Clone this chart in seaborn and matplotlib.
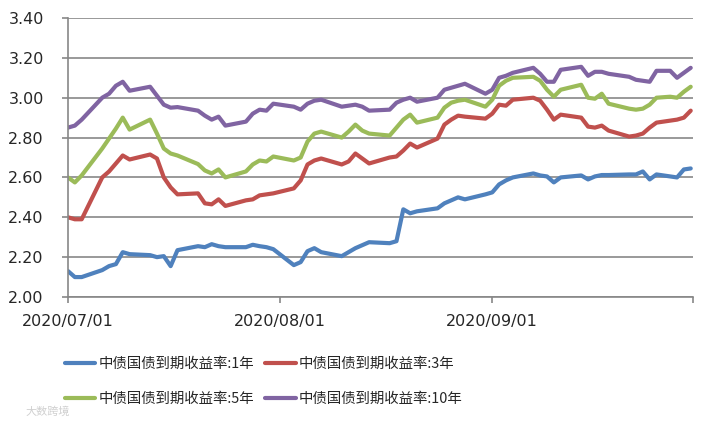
import pandas as pd
import seaborn as sns
import matplotlib.pyplot as plt
import matplotlib.dates as mdates

# trading days (Sep 27 was a working Sunday in China)
days_jul = ["07-01", "07-02", "07-03", "07-06", "07-07", "07-08", "07-09", "07-10",
            "07-13", "07-14", "07-15", "07-16", "07-17", "07-20", "07-21", "07-22",
            "07-23", "07-24", "07-27", "07-28", "07-29", "07-30", "07-31"]
days_aug = ["08-03", "08-04", "08-05", "08-06", "08-07", "08-10", "08-11", "08-12",
            "08-13", "08-14", "08-17", "08-18", "08-19", "08-20", "08-21", "08-24",
            "08-25", "08-26", "08-27", "08-28", "08-31"]
days_sep = ["09-01", "09-02", "09-03", "09-04", "09-07", "09-08", "09-09", "09-10",
            "09-11", "09-14", "09-15", "09-16", "09-17", "09-18", "09-21", "09-22",
            "09-23", "09-24", "09-25", "09-27", "09-28", "09-29", "09-30"]

# 1 year
y1 = [2.13, 2.10, 2.10, 2.135, 2.155, 2.165, 2.225, 2.215, 2.21, 2.20, 2.205, 2.155,
      2.235, 2.255, 2.25, 2.265, 2.255, 2.25, 2.25, 2.262, 2.255, 2.25, 2.24,
      2.16, 2.175, 2.23, 2.245, 2.225, 2.205, 2.225, 2.245, 2.26, 2.275, 2.27, 2.28,
      2.44, 2.42, 2.43, 2.445, 2.47, 2.485, 2.50, 2.49, 2.515,
      2.525, 2.565, 2.585, 2.60, 2.62, 2.61, 2.605, 2.575, 2.60, 2.61, 2.59, 2.605,
      2.612, 2.612, 2.615, 2.615, 2.63, 2.59, 2.615, 2.605, 2.60, 2.64, 2.645]
# 3 year
y3 = [2.40, 2.39, 2.39, 2.60, 2.63, 2.67, 2.71, 2.69, 2.715, 2.695, 2.60, 2.55,
      2.515, 2.52, 2.47, 2.465, 2.49, 2.457, 2.485, 2.49, 2.51, 2.515, 2.52,
      2.545, 2.585, 2.665, 2.685, 2.695, 2.665, 2.68, 2.72, 2.695, 2.67, 2.70, 2.705,
      2.735, 2.77, 2.75, 2.795, 2.865, 2.89, 2.91, 2.905, 2.895,
      2.92, 2.965, 2.96, 2.99, 3.00, 2.985, 2.94, 2.89, 2.915, 2.90, 2.855, 2.85,
      2.86, 2.835, 2.805, 2.81, 2.82, 2.85, 2.875, 2.885, 2.89, 2.90, 2.935]
# 5 year
y5 = [2.60, 2.575, 2.61, 2.745, 2.795, 2.845, 2.90, 2.84, 2.89, 2.82, 2.745, 2.72,
      2.71, 2.667, 2.635, 2.62, 2.64, 2.60, 2.63, 2.665, 2.685, 2.68, 2.705,
      2.685, 2.70, 2.78, 2.82, 2.83, 2.80, 2.83, 2.865, 2.835, 2.82, 2.81, 2.85,
      2.89, 2.915, 2.875, 2.90, 2.95, 2.975, 2.985, 2.99, 2.955,
      2.99, 3.06, 3.085, 3.10, 3.105, 3.085, 3.04, 3.005, 3.04, 3.065, 3.00, 2.995,
      3.02, 2.97, 2.945, 2.94, 2.945, 2.965, 3.00, 3.005, 3.00, 3.03, 3.055]
# 10 year
y10 = [2.85, 2.86, 2.89, 3.00, 3.02, 3.06, 3.08, 3.035, 3.055, 3.01, 2.965, 2.95,
       2.953, 2.935, 2.91, 2.89, 2.905, 2.86, 2.88, 2.92, 2.94, 2.935, 2.97,
       2.955, 2.94, 2.97, 2.985, 2.99, 2.955, 2.96, 2.965, 2.955, 2.935, 2.94, 2.975,
       2.99, 3.00, 2.98, 3.00, 3.04, 3.05, 3.06, 3.07, 3.02,
       3.04, 3.10, 3.11, 3.125, 3.15, 3.12, 3.08, 3.08, 3.14, 3.155, 3.11, 3.13,
       3.13, 3.12, 3.105, 3.09, 3.085, 3.08, 3.135, 3.135, 3.10, 3.125, 3.15]

labels = ["中债国债到期收益率:1年", "中债国债到期收益率:3年",
          "中债国债到期收益率:5年", "中债国债到期收益率:10年"]
colors = ["#4F81BD", "#C0504D", "#9BBB59", "#8064A2"]

dates = pd.to_datetime(["2020-" + d for d in days_jul + days_aug + days_sep])
df = pd.DataFrame({"date": dates, labels[0]: y1, labels[1]: y3,
                   labels[2]: y5, labels[3]: y10})
df = df.melt(id_vars="date", var_name="series", value_name="rate")

sns.set_style("white")
plt.rcParams["font.family"] = ["Noto Sans CJK SC", "DejaVu Sans"]

fig = plt.figure(figsize=(7.12, 4.26), dpi=100)
ax = fig.add_axes([68 / 712, 1 - 297 / 426, 625 / 712, 279 / 426])

sns.lineplot(data=df, x="date", y="rate", hue="series", hue_order=labels,
             palette=colors, linewidth=3, ax=ax)

grid_c = "#878787"
ax.set_ylim(2.0, 3.4)
ax.set_yticks([2.0 + 0.2 * i for i in range(8)])
ax.yaxis.set_major_formatter(plt.FormatStrFormatter("%.2f"))
ax.grid(axis="y", color=grid_c, linewidth=1.2)
ax.set_axisbelow(True)

x0 = pd.Timestamp("2020-07-01")
x1 = pd.Timestamp("2020-09-30") + pd.Timedelta(hours=8)
ax.set_xlim(x0, x1)
ax.set_xticks(pd.to_datetime(["2020-07-01", "2020-08-01", "2020-09-01"]))
ax.set_xticks([x1], minor=True)
ax.xaxis.set_major_formatter(mdates.DateFormatter("%Y/%m/%d"))

for s in ["top", "right"]:
    ax.spines[s].set_visible(False)
for s in ["left", "bottom"]:
    ax.spines[s].set_color(grid_c)
    ax.spines[s].set_linewidth(1.2)

ax.tick_params(axis="y", which="both", left=True, length=4.5, width=1.2,
               color=grid_c, pad=13, labelsize=11.5)
ax.tick_params(axis="x", which="both", bottom=True, length=4.5, width=1.2,
               color=grid_c, pad=8, labelsize=11.5)
for t in ax.get_xticklabels() + ax.get_yticklabels():
    t.set_fontfamily("DejaVu Sans")
ax.set_xlabel("")
ax.set_ylabel("")

# legend fills column by column: reorder so rows read 1年,3年 / 5年,10年
handles, labs = ax.get_legend_handles_labels()
order = [0, 2, 1, 3]
ax.get_legend().remove()
fig.legend([handles[i] for i in order], [labs[i] for i in order],
           loc="upper left", bbox_to_anchor=(52 / 712, 1 - 344 / 426),
           ncol=2, frameon=False, fontsize=10.4, handlelength=2.1,
           handletextpad=0.2, columnspacing=0.8, labelspacing=1.45)

fig.text(25 / 712, 1 - 412 / 426, "大数跨境", fontsize=8, color="#d0d0d0",
         va="center", ha="left")

fig.savefig("out.png", dpi=100)
